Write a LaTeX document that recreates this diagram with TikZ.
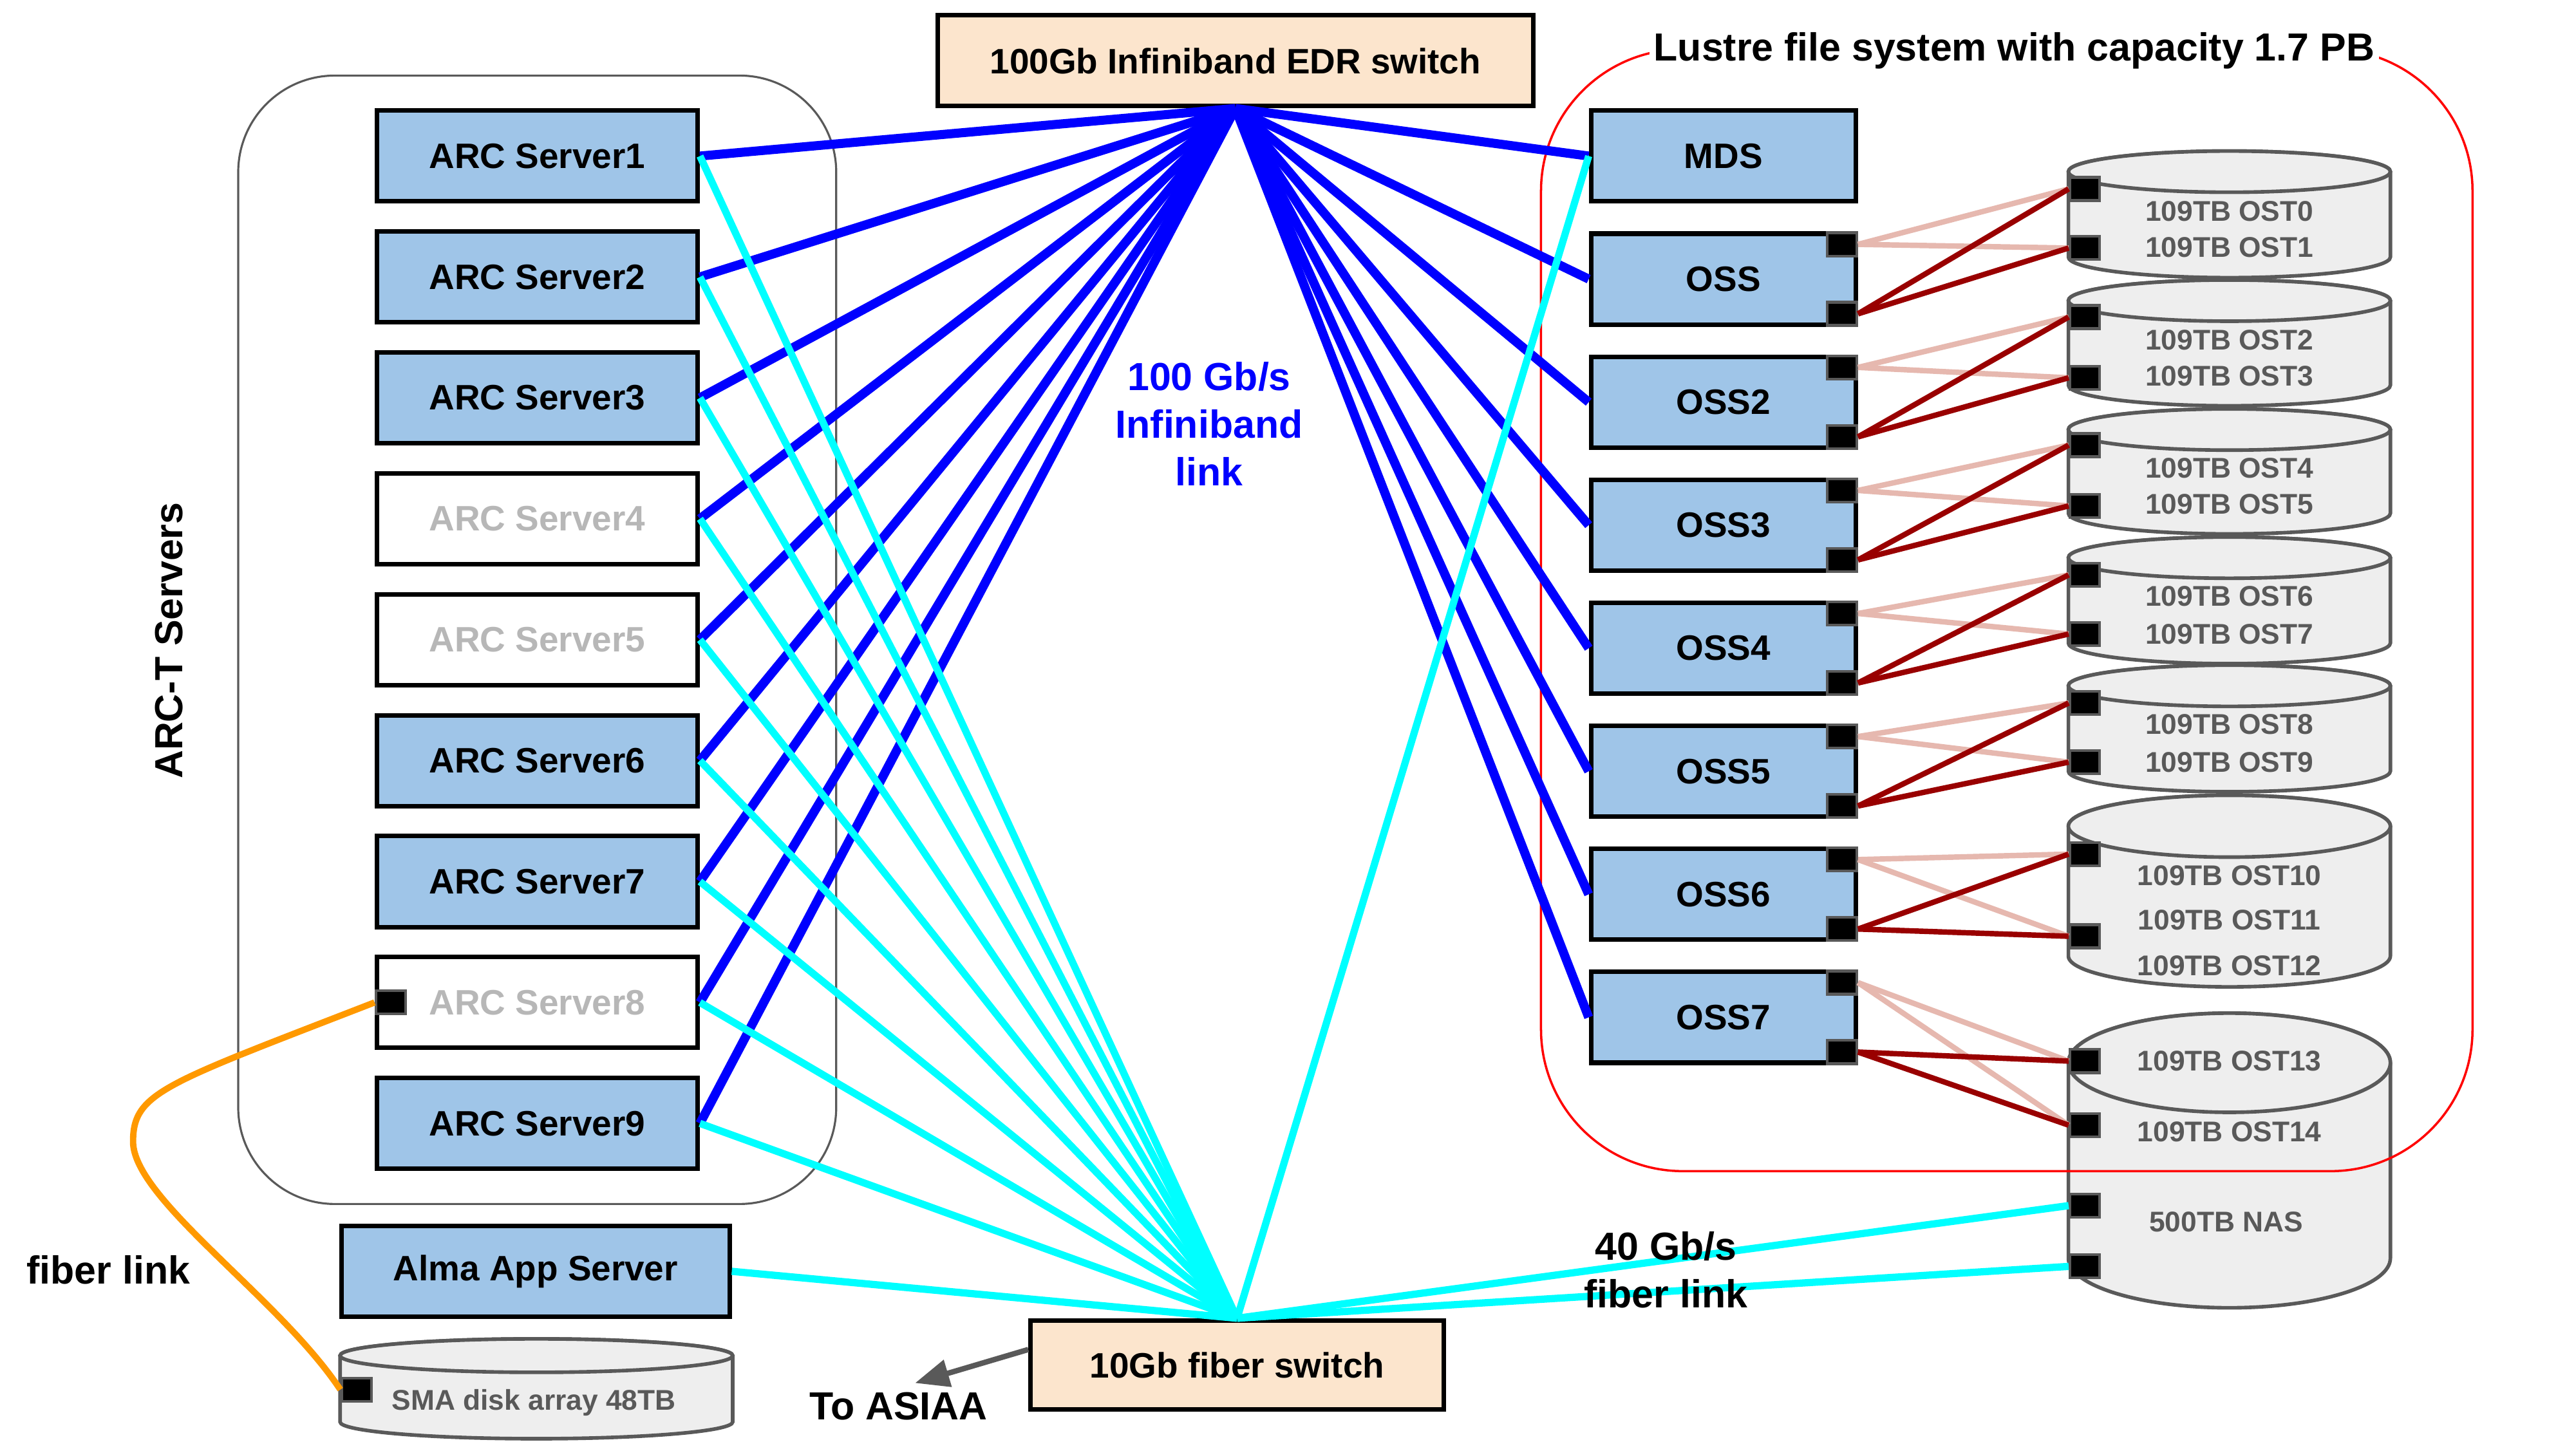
\documentclass[tikz,border=0pt]{standalone}
\usepackage{fontspec}
\setmainfont{Liberation Sans}
\usepackage[dvipsnames]{xcolor}
\usetikzlibrary{positioning,arrows.meta}

\definecolor{srvblue}{HTML}{9FC5E8}
\definecolor{peach}{HTML}{FCE5CD}
\definecolor{offgray}{HTML}{B7B7B7}
\definecolor{diskfill}{HTML}{EEEEEE}
\definecolor{diskgray}{HTML}{595959}
\definecolor{ibblue}{HTML}{0000FF}
\definecolor{fbcyan}{HTML}{00FFFF}
\definecolor{fiberorange}{HTML}{FF9900}
\definecolor{ostpink}{HTML}{E6B8AF}
\definecolor{ostred}{HTML}{990000}

% disk: centre x, top cap y, bottom cap y, half width, cap height
\newcommand{\drawdisk}[5]{%
  \filldraw[disk] (#1-#4,#2) -- (#1-#4,#3)
    arc[start angle=180,end angle=360,x radius=#4*0.0255cm,y radius=#5]
    -- (#1+#4,#2)
    arc[start angle=0,end angle=180,x radius=#4*0.0255cm,y radius=#5] -- cycle;
  \draw[disk] (#1,#2) ellipse[x radius=#4*0.0255cm,y radius=#5];
}

\begin{document}
\begin{tikzpicture}[x=0.0255cm,y=-0.0255cm,node distance=1.877cm,font=\bfseries\fontsize{15.6}{18}\selectfont,
    srv/.style={draw,line width=2pt,fill=srvblue,minimum width=4.98cm,minimum height=1.41cm,inner sep=0pt},
    offsrv/.style={srv,fill=white,text=offgray},
    oss/.style={srv,minimum width=4.11cm,node distance=1.91cm},
    switch/.style={draw,line width=2pt,fill=peach,minimum height=1.41cm,inner sep=0pt},
    port/.style={draw=diskgray,fill=black,line width=1.2pt,minimum width=0.46cm,minimum height=0.36cm,inner sep=0pt},
    disk/.style={draw=diskgray,fill=diskfill,line width=1.6pt},
    disktext/.style={text=diskgray,font=\bfseries\fontsize{12.6}{15}\selectfont},
    note/.style={font=\bfseries\fontsize{17.3}{21}\selectfont,align=center},
    ibline/.style={draw=ibblue,line width=4pt},
    fbline/.style={draw=fbcyan,line width=3.2pt},
    ostlink/.style={draw=ostpink,line width=2.4pt},
    ostlinkdark/.style={draw=ostred,line width=2.4pt},
    fiber/.style={draw=fiberorange,line width=2.8pt},
    asiaa/.style={draw=diskgray,line width=2.4pt,-{Triangle[length=0.53cm,width=0.42cm]}}]

    \useasboundingbox (0,0) rectangle (1568,882);

    \drawdisk{1357}{104.5}{156.5}{98}{0.32cm}
    \drawdisk{1357}{183}{234.5}{98}{0.32cm}
    \drawdisk{1357}{261.5}{312.5}{98}{0.32cm}
    \drawdisk{1357}{339.5}{391.5}{98}{0.32cm}
    \drawdisk{1357}{417.5}{469.5}{98}{0.32cm}
    \drawdisk{1357}{503}{582}{98}{0.48cm}
    \drawdisk{1357}{647}{766}{98}{0.77cm}
    \drawdisk{326.5}{825.3}{865.7}{119.5}{0.26cm}

    \draw[red,line width=1pt,rounded corners=2.2cm] (938,30) rectangle (1505,713);
    \draw[diskgray,line width=0.9pt,rounded corners=1.5cm] (145,46) rectangle (509,733);
    \node[note,fill=white,inner sep=2pt] (lustre) at (1226,31) {Lustre file system with capacity 1.7 PB};

    \node[srv] (s1) at (327,95) {ARC Server1};
    \node[srv] (s2) [below of=s1] {ARC Server2};
    \node[srv] (s3) [below of=s2] {ARC Server3};
    \node[offsrv] (s4) [below of=s3] {ARC Server4};
    \node[offsrv] (s5) [below of=s4] {ARC Server5};
    \node[srv] (s6) [below of=s5] {ARC Server6};
    \node[srv] (s7) [below of=s6] {ARC Server7};
    \node[offsrv] (s8) [below of=s7] {ARC Server8};
    \node[srv] (s9) [below of=s8] {ARC Server9};
    \node[srv,minimum width=6.02cm] (alma) at (326,774) {Alma App Server};

    \node[switch,minimum width=9.24cm] (ib) at (752,37) {100Gb Infiniband EDR switch};
    \node[switch,minimum width=6.41cm,minimum height=1.38cm] (fb) at (753,831) {10Gb fiber switch};

    \node[oss] (mds) at (1049,95) {MDS};
    \node[oss] (o1) [below of=mds] {OSS};
    \node[oss] (o2) [below of=o1] {OSS2};
    \node[oss] (o3) [below of=o2] {OSS3};
    \node[oss] (o4) [below of=o3] {OSS4};
    \node[oss] (o5) [below of=o4] {OSS5};
    \node[oss] (o6) [below of=o5] {OSS6};
    \node[oss] (o7) [below of=o6] {OSS7};

    \node[port,anchor=north east] (o1a) at (o1.north east) {};
    \node[port,anchor=south east] (o1b) at (o1.south east) {};
    \node[port,anchor=north east] (o2a) at (o2.north east) {};
    \node[port,anchor=south east] (o2b) at (o2.south east) {};
    \node[port,anchor=north east] (o3a) at (o3.north east) {};
    \node[port,anchor=south east] (o3b) at (o3.south east) {};
    \node[port,anchor=north east] (o4a) at (o4.north east) {};
    \node[port,anchor=south east] (o4b) at (o4.south east) {};
    \node[port,anchor=north east] (o5a) at (o5.north east) {};
    \node[port,anchor=south east] (o5b) at (o5.south east) {};
    \node[port,anchor=north east] (o6a) at (o6.north east) {};
    \node[port,anchor=south east] (o6b) at (o6.south east) {};
    \node[port,anchor=north east] (o7a) at (o7.north east) {};
    \node[port,anchor=south east] (o7b) at (o7.south east) {};
    \node[port,anchor=west] (s8p) at (s8.west) {};
    \node[port] (smap) at (217,846) {};

    \node[port] (dp0) at (1269,115) {};
    \node[port] (dp1) at (1269,151) {};
    \node[port] (dp2) at (1269,193) {};
    \node[port] (dp3) at (1269,230) {};
    \node[port] (dp4) at (1269,271) {};
    \node[port] (dp5) at (1269,308) {};
    \node[port] (dp6) at (1269,350) {};
    \node[port] (dp7) at (1269,386) {};
    \node[port] (dp8) at (1269,428) {};
    \node[port] (dp9) at (1269,464) {};
    \node[port] (dp10) at (1269,520) {};
    \node[port] (dp11) at (1269,570) {};
    \node[port] (dp13) at (1269,646) {};
    \node[port] (dp14) at (1269,685) {};
    \node[port] (nas1) at (1269,734) {};
    \node[port] (nas2) at (1269,771) {};

    \node[disktext] (ost0) at (1357,128.6) {109TB OST0};
    \node[disktext] (ost1) at (1357,150.5) {109TB OST1};
    \node[disktext] (ost2) at (1357,207) {109TB OST2};
    \node[disktext] (ost3) at (1357,229) {109TB OST3};
    \node[disktext] (ost4) at (1357,285) {109TB OST4};
    \node[disktext] (ost5) at (1357,307) {109TB OST5};
    \node[disktext] (ost6) at (1357,363) {109TB OST6};
    \node[disktext] (ost7) at (1357,386) {109TB OST7};
    \node[disktext] (ost8) at (1357,441) {109TB OST8};
    \node[disktext] (ost9) at (1357,464) {109TB OST9};
    \node[disktext] (ost10) at (1357,533) {109TB OST10};
    \node[disktext] (ost11) at (1357,560) {109TB OST11};
    \node[disktext] (ost12) at (1357,588) {109TB OST12};
    \node[disktext] (ost13) at (1357,646) {109TB OST13};
    \node[disktext] (ost14) at (1357,689) {109TB OST14};
    \node[disktext] (nas) at (1355,744) {500TB NAS};
    \node[disktext] (sma) at (325,854) {SMA disk array 48TB};

    \path[ostlink]
        (o1a.east) edge (dp0.west)
        (o1a.east) edge (dp1.west)
        (o2a.east) edge (dp2.west)
        (o2a.east) edge (dp3.west)
        (o3a.east) edge (dp4.west)
        (o3a.east) edge (dp5.west)
        (o4a.east) edge (dp6.west)
        (o4a.east) edge (dp7.west)
        (o5a.east) edge (dp8.west)
        (o5a.east) edge (dp9.west)
        (o6a.east) edge (dp10.west)
        (o6a.east) edge (dp11.west)
        (o7a.east) edge (dp13.west)
        (o7a.east) edge (dp14.west)
    ;

    \path[ostlinkdark]
        (o1b.east) edge (dp0.west)
        (o1b.east) edge (dp1.west)
        (o2b.east) edge (dp2.west)
        (o2b.east) edge (dp3.west)
        (o3b.east) edge (dp4.west)
        (o3b.east) edge (dp5.west)
        (o4b.east) edge (dp6.west)
        (o4b.east) edge (dp7.west)
        (o5b.east) edge (dp8.west)
        (o5b.east) edge (dp9.west)
        (o6b.east) edge (dp10.west)
        (o6b.east) edge (dp11.west)
        (o7b.east) edge (dp13.west)
        (o7b.east) edge (dp14.west)
    ;

    \path[ibline]
        (ib.south) edge (s1.east)
        (ib.south) edge (s2.east)
        (ib.south) edge (s3.east)
        (ib.south) edge (s4.east)
        (ib.south) edge (s5.east)
        (ib.south) edge (s6.east)
        (ib.south) edge (s7.east)
        (ib.south) edge (s8.east)
        (ib.south) edge (s9.east)
        (ib.south) edge (mds.west)
        (ib.south) edge (o1.west)
        (ib.south) edge (o2.west)
        (ib.south) edge (o3.west)
        (ib.south) edge (o4.west)
        (ib.south) edge (o5.west)
        (ib.south) edge (o6.west)
        (ib.south) edge (o7.west)
    ;

    \path[fbline]
        (fb.north) edge (s1.east)
        (fb.north) edge (s2.east)
        (fb.north) edge (s3.east)
        (fb.north) edge (s4.east)
        (fb.north) edge (s5.east)
        (fb.north) edge (s6.east)
        (fb.north) edge (s7.east)
        (fb.north) edge (s8.east)
        (fb.north) edge (s9.east)
        (fb.north) edge (alma.east)
        (fb.north) edge (mds.west)
        (fb.north) edge (nas1.west)
        (fb.north) edge (nas2.west)
    ;

    \draw[fiber] (s8p.west) .. controls (100,660) and (81,665) .. (81,695)
        .. controls (81,730) and (170,790) .. (smap.west);

    \coordinate (asiaatip) at (557,842);
    \draw[asiaa] ([yshift=0.24cm]fb.west) -- (asiaatip);

    \node[note,rotate=90] (arct) at (103,390) {ARC-T Servers};
    \node[note,text=ibblue] (iblabel) at (736,258) {100 Gb/s\\Infiniband\\link};
    \node[note] (fblabel) at (1014,773) {40 Gb/s\\fiber link};
    \node[note] (fiberlabel) at (66,773) {fiber link};
    \node[note] (toasiaa) at (547,856) {To ASIAA};

\end{tikzpicture}
\end{document}
